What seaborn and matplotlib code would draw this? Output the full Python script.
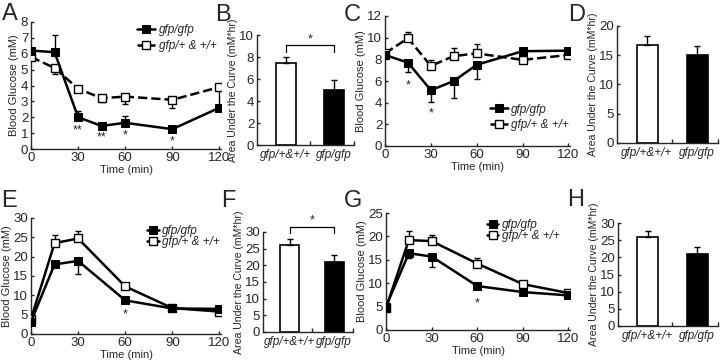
import matplotlib
matplotlib.use("Agg")
import matplotlib.pyplot as plt
import seaborn as sns
import numpy as np

# Time points (min)
time_itt = [0, 15, 30, 45, 60, 90, 120]
time_gtt = [0, 15, 30, 60, 90, 120]

# A: insulin tolerance, blood glucose (mM)
a_ko = [6.2, 6.1, 2.0, 1.45, 1.65, 1.25, 2.6]
a_ko_err = [0.15, 1.1, 0.4, 0.1, 0.4, 0.1, 0.15]
a_wt = [5.8, 5.1, 3.8, 3.2, 3.3, 3.1, 3.9]
a_wt_err = [0.2, 0.35, 0.15, 0.25, 0.45, 0.5, 1.1]
a_stars = [(30, 1.4, "**"), (45, 1.0, "**"), (60, 1.1, "*"), (90, 0.75, "*")]

# C
c_ko = [8.4, 7.7, 5.15, 6.0, 7.5, 8.75, 8.8]
c_ko_err = [0.1, 0.9, 1.1, 1.55, 1.35, 0.1, 0.1]
c_wt = [8.55, 9.95, 7.4, 8.3, 8.55, 7.95, 8.4]
c_wt_err = [0.1, 0.55, 0.5, 0.7, 0.9, 0.1, 0.1]
c_stars = [(15, 6.0, "*"), (30, 3.4, "*")]

# E: glucose tolerance
e_ko = [3.2, 18.0, 18.9, 8.7, 6.6, 6.5]
e_ko_err = [0.5, 0.8, 3.3, 0.4, 0.3, 0.2]
e_wt = [3.9, 23.5, 24.7, 12.3, 6.7, 5.8]
e_wt_err = [0.3, 2.0, 1.9, 0.8, 0.3, 0.3]
e_stars = [(60, 6.2, "*")]

# G
g_ko = [5.0, 16.4, 15.7, 9.4, 8.1, 7.4]
g_ko_err = [0.3, 1.0, 2.2, 0.7, 0.3, 0.2]
g_wt = [4.7, 19.2, 19.0, 14.2, 9.8, 7.9]
g_wt_err = [0.3, 2.0, 1.4, 1.2, 0.3, 0.2]
g_stars = [(60, 6.6, "*")]

# Area under the curve (mM*hr)
genotypes = ["gfp/+&+/+", "gfp/gfp"]
b_auc = [7.5, 5.0]
b_err = [0.5, 0.9]
d_auc = [16.7, 15.1]
d_err = [1.6, 1.5]
f_auc = [26.0, 21.0]
f_err = [1.8, 2.0]
h_auc = [26.0, 21.0]
h_err = [1.6, 2.1]

ko_label = "gfp/gfp"
wt_label = "gfp/+ & +/+"

sns.set_style("ticks")
plt.rcParams["font.family"] = ["Liberation Sans", "DejaVu Sans"]

W, H = 720, 362
fig = plt.figure(figsize=(7.2, 3.62), dpi=100)


def px_axes(left, top, right, bottom):
    return fig.add_axes([left / W, 1 - bottom / H, (right - left) / W, (bottom - top) / H])


def style_axis(axis):
    sns.despine(ax=axis)
    for sp in ["left", "bottom"]:
        axis.spines[sp].set_linewidth(1.0)
    axis.tick_params(direction="in", length=2.5, width=1.0, labelsize=9.5, pad=2)


def star(axis, x, y, s):
    # y is where the asterisk itself should sit, the glyph sits high above the baseline
    axis.annotate(s, xy=(x, y), xytext=(0, -5), textcoords="offset points", ha="center",
                  va="baseline", fontsize=9, annotation_clip=False)


def plot_curve(axis, t, ko, ko_err, wt, wt_err, ko_down, ymax, ystep, stars, wt_dashed):
    wt_style = "--" if wt_dashed else "-"
    zeros = np.zeros(len(t))
    # error bars point away from the other group
    ko_yerr = [ko_err, zeros] if ko_down else [zeros, ko_err]
    wt_yerr = [zeros, wt_err] if ko_down else [wt_err, zeros]
    axis.errorbar(t, ko, yerr=ko_yerr, fmt="none", ecolor="black", elinewidth=1.0, capsize=2, zorder=2)
    axis.errorbar(t, wt, yerr=wt_yerr, fmt="none", ecolor="black", elinewidth=1.0, capsize=2, zorder=2)
    sns.lineplot(x=t, y=ko, ax=axis, color="black", linewidth=1.8, marker="s", markersize=5.5,
                 markerfacecolor="black", markeredgecolor="black", label=ko_label, zorder=4)
    sns.lineplot(x=t, y=wt, ax=axis, color="black", linewidth=1.8, linestyle=wt_style, marker="s",
                 markersize=5.5, markerfacecolor="white", markeredgecolor="black", markeredgewidth=1.0,
                 label=wt_label, zorder=3)
    for x, y, s in stars:
        star(axis, x, y, s)
    axis.set_xlim(0, 121)
    axis.set_ylim(0, ymax)
    axis.set_xticks([0, 30, 60, 90, 120])
    axis.set_yticks(np.arange(0, ymax + 0.1, ystep))
    axis.set_xlabel("Time (min)", fontsize=8, labelpad=1)
    axis.set_ylabel("Blood Glucose (mM)", fontsize=8, labelpad=1)
    style_axis(axis)


def plot_auc(axis, auc, err, ymax, ystep, bracket=None):
    sns.barplot(x=genotypes, y=auc, ax=axis, hue=genotypes, palette=["white", "black"],
                edgecolor="black", linewidth=1.2, width=0.42, legend=False)
    axis.errorbar([0, 1], auc, yerr=[[0, 0], err], fmt="none", ecolor="black", elinewidth=1.0,
                  capsize=2.5)
    axis.set_xlim(-0.6, 1.42)
    axis.set_ylim(0, ymax)
    axis.set_yticks(np.arange(0, ymax + 0.1, ystep))
    axis.set_ylabel("Area Under the Curve (mM*hr)", fontsize=7.6, labelpad=1)
    style_axis(axis)
    axis.tick_params(axis="x", length=0, labelsize=8.5, pad=3)
    axis.set_xticks([0.5, 1.42], minor=True)
    axis.tick_params(axis="x", which="minor", direction="in", length=3, width=1.0)
    for lab in axis.get_xticklabels():
        lab.set_fontstyle("italic")
    if bracket is not None:
        yb, drop, ys = bracket
        axis.plot([0, 0, 1, 1], [yb - drop, yb, yb, yb - drop], color="black", linewidth=0.9, clip_on=False)
        star(axis, 0.5, ys, "*")


def place_legend(axis, loc, anchor, spacing, size, hlen):
    handles, labels = axis.get_legend_handles_labels()
    leg = axis.legend(handles, labels, loc=loc, bbox_to_anchor=anchor, frameon=False, fontsize=size,
                      handlelength=hlen, handletextpad=0.3, labelspacing=spacing, borderaxespad=0)
    for txt in leg.get_texts():
        txt.set_fontstyle("italic")


ax_a = px_axes(31, 22, 221, 149)
plot_curve(ax_a, time_itt, a_ko, a_ko_err, a_wt, a_wt_err, False, 8, 1, a_stars, True)
place_legend(ax_a, "upper right", (1.0, 1.02), 0.3, 8.5, 1.5)

ax_b = px_axes(257, 35, 354, 145)
plot_auc(ax_b, b_auc, b_err, 10, 2, bracket=(9.1, 0.6, 10.0))

ax_c = px_axes(385, 16, 570, 146)
plot_curve(ax_c, time_itt, c_ko, c_ko_err, c_wt, c_wt_err, True, 12, 2, c_stars, True)
place_legend(ax_c, "center right", (1.02, 0.22), 0.3, 8.5, 1.5)

ax_d = px_axes(617, 26, 718, 143)
plot_auc(ax_d, d_auc, d_err, 20, 5)

ax_e = px_axes(31, 218, 221, 334)
plot_curve(ax_e, time_gtt, e_ko, e_ko_err, e_wt, e_wt_err, True, 30, 5, e_stars, False)
place_legend(ax_e, "upper right", (1.02, 0.98), -0.1, 8.5, 1.0)

ax_f = px_axes(263, 232, 353, 332)
plot_auc(ax_f, f_auc, f_err, 30, 5, bracket=(31.6, 1.8, 34.6))

ax_g = px_axes(386, 213, 570, 330)
plot_curve(ax_g, time_gtt, g_ko, g_ko_err, g_wt, g_wt_err, True, 25, 5, g_stars, False)
place_legend(ax_g, "upper right", (0.97, 0.99), -0.1, 8.5, 1.0)

ax_h = px_axes(618, 223, 718, 326)
plot_auc(ax_h, h_auc, h_err, 30, 5)

# Panel letters (baseline positions in pixels)
for letter, x, y in [("A", 2, 20), ("B", 215, 21), ("C", 344, 21), ("D", 568, 21),
                     ("E", 1, 207), ("F", 221, 207), ("G", 344, 207), ("H", 567, 206)]:
    fig.text(x / W, 1 - y / H, letter, fontsize=17, ha="left", va="baseline")

fig.savefig("out.png", dpi=100)
